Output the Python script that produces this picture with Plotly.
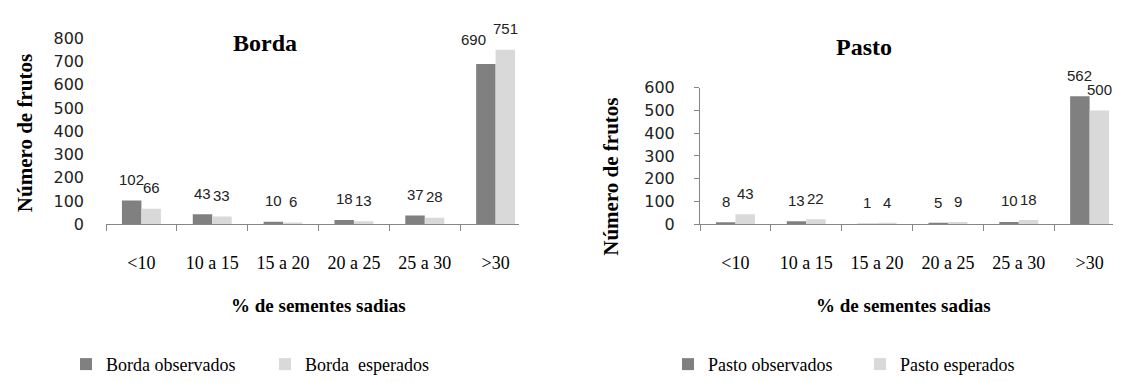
import plotly.graph_objects as go

# Classes of healthy-seed percentage
categories = ["<10", "10 a 15", "15 a 20", "20 a 25", "25 a 30", ">30"]

# Fruit counts per class
borda_observados = [102, 43, 10, 18, 37, 690]
borda_esperados = [66, 33, 6, 13, 28, 751]
pasto_observados = [8, 13, 1, 5, 10, 562]
pasto_esperados = [43, 22, 4, 9, 18, 500]

borda_ticks = [0, 100, 200, 300, 400, 500, 600, 700, 800]
pasto_ticks = [0, 100, 200, 300, 400, 500, 600]

DARK = "#808080"
LIGHT = "#d9d9d9"
AXIS = "#868686"
SERIF = "Liberation Serif, Times New Roman, serif"
SANS = "DejaVu Sans, Verdana, sans-serif"
LABEL_FONT = "Liberation Sans, Arial, sans-serif"

W, H = 1129, 383

fig = go.Figure()

panels = [
    ("x", "y", "legend", "Borda observados", borda_observados, "Borda  esperados", borda_esperados),
    ("x2", "y2", "legend2", "Pasto observados", pasto_observados, "Pasto esperados", pasto_esperados),
]

for xa, ya, lg, n_obs, v_obs, n_exp, v_exp in panels:
    fig.add_trace(go.Bar(x=categories, y=v_obs, name=n_obs, marker=dict(color=DARK, line_width=0),
                         xaxis=xa, yaxis=ya, legend=lg, offsetgroup="obs"))
    fig.add_trace(go.Bar(x=categories, y=v_exp, name=n_exp, marker=dict(color=LIGHT, line_width=0),
                         xaxis=xa, yaxis=ya, legend=lg, offsetgroup="exp"))

# value labels above each bar
half_bar_px = 9.7
label_nudge = {("x", 0, 5): (-12, 3)}
annotations = []
for xa, ya, _, _, v_obs, _, v_exp in panels:
    for s, (vals, side) in enumerate([(v_obs, -1), (v_exp, 1)]):
        for i, (cat, v) in enumerate(zip(categories, vals)):
            dx, dy = label_nudge.get((xa, s, i), (0, 0))
            annotations.append(dict(
                x=cat, y=v, xref=xa, yref=ya, text=str(v), showarrow=False,
                xshift=side * half_bar_px + dx, yshift=21 + dy, yanchor="middle",
                font=dict(family=LABEL_FONT, size=15, color="#222222")))

# titles
def paper_x(px):
    return px / W

def paper_y(py):
    return (H - py) / H

for text, cx, cy, size in [("Borda", 265, 36, 24), ("Pasto", 864, 40, 24)]:
    annotations.append(dict(text=f"<b>{text}</b>", x=paper_x(cx), y=paper_y(cy), xref="paper", yref="paper",
                            showarrow=False, xanchor="center", yanchor="middle",
                            font=dict(family=SERIF, size=size, color="black")))

for cx in (318, 903):
    annotations.append(dict(text="<b>% de sementes sadias</b>", x=paper_x(cx), y=paper_y(313),
                            xref="paper", yref="paper", showarrow=False, xanchor="center", yanchor="middle",
                            font=dict(family=SERIF, size=19, color="black")))

for cx, cy in ((25, 131), (611, 177)):
    annotations.append(dict(text="<b>Número de frutos</b>", x=paper_x(cx), y=paper_y(cy),
                            xref="paper", yref="paper", showarrow=False, textangle=-90,
                            xanchor="center", yanchor="middle",
                            font=dict(family=SERIF, size=21, color="black")))

xaxis_common = dict(
    type="category", range=[-0.5, 5.33], showline=True, linecolor=AXIS, linewidth=1,
    ticks="outside", tickson="boundaries", ticklen=6, tickcolor=AXIS, tickwidth=1,
    showgrid=False, zeroline=False, ticklabelstandoff=22,
    tickfont=dict(family=SERIF, size=18, color="black"), fixedrange=True,
)

fig.update_layout(
    width=W, height=H,
    margin=dict(l=0, r=0, t=0, b=0),
    paper_bgcolor="white", plot_bgcolor="white",
    barmode="group", bargap=0.45, bargroupgap=0,
    showlegend=True,
    xaxis=dict(domain=[paper_x(106), paper_x(519)], anchor="y", **xaxis_common),
    xaxis2=dict(domain=[paper_x(700), paper_x(1113)], anchor="y2", **xaxis_common),
    yaxis=dict(domain=[paper_y(227), paper_y(31)], anchor="x", range=[0, 800],
               tickvals=borda_ticks, showline=False, ticks="", showgrid=False, zeroline=False,
               ticklabelstandoff=21, tickfont=dict(family=SANS, size=16, color="#222222")),
    yaxis2=dict(domain=[paper_y(227), paper_y(83)], anchor="x2", range=[0, 600],
                tickvals=pasto_ticks, showline=True, linecolor=AXIS, linewidth=1,
                ticks="outside", ticklen=5, tickcolor=AXIS, showgrid=False, zeroline=False,
                ticklabelstandoff=16, tickfont=dict(family=SANS, size=16, color="#222222")),
    legend=dict(orientation="h", x=paper_x(66), y=paper_y(375), xanchor="left", yanchor="middle",
                font=dict(family=SERIF, size=18, color="black"), itemwidth=30, entrywidth=154,
                bgcolor="rgba(0,0,0,0)", itemclick=False, itemdoubleclick=False),
    legend2=dict(orientation="h", x=paper_x(668), y=paper_y(375), xanchor="left", yanchor="middle",
                 font=dict(family=SERIF, size=18, color="black"), itemwidth=30, entrywidth=147,
                 bgcolor="rgba(0,0,0,0)", itemclick=False, itemdoubleclick=False),
    annotations=annotations,
)

fig.write_html("out.html")
